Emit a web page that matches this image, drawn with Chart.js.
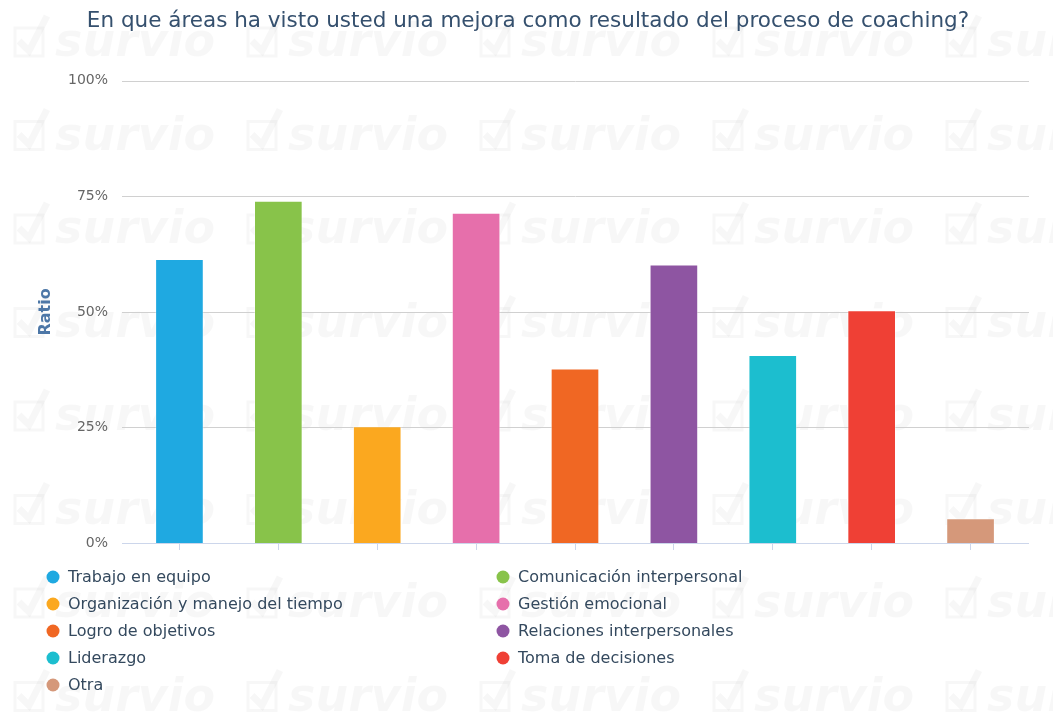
<!DOCTYPE html>
<html>
<head>
<meta charset="utf-8">
<script src="https://cdn.jsdelivr.net/npm/chart.js@4.4.1/dist/chart.umd.min.js"></script>
<style>
  html, body { margin: 0; padding: 0; background: #fff; }
  #wrap { width: 1053px; height: 717px; position: relative; }
</style>
</head>
<body>
<div id="wrap"><canvas id="chart"></canvas></div>
<script>
// ============================================
// DATA
// ============================================
const categories = [
    'Trabajo en equipo',
    'Comunicación interpersonal',
    'Organización y manejo del tiempo',
    'Gestión emocional',
    'Logro de objetivos',
    'Relaciones interpersonales',
    'Liderazgo',
    'Toma de decisiones',
    'Otra'
];
const ratios = [61.4, 74.0, 25.2, 71.4, 37.7, 60.2, 40.6, 50.3, 5.3];
const yTicks = [0, 25, 50, 75, 100];

const barColors = ['#1fa9e1', '#88c34a', '#fba81f', '#e66fab', '#f06723', '#8e55a2', '#1cbecf', '#ef4035', '#d5987a'];

const FONT = '"DejaVu Sans", sans-serif';

// ============================================
// PLUGINS
// ============================================
const watermark = {
    id: 'watermark',
    beforeDraw(chart) {
        const ctx = chart.ctx;
        ctx.save();
        ctx.fillStyle = 'rgba(0,0,0,0.032)';
        ctx.strokeStyle = 'rgba(0,0,0,0.032)';
        ctx.font = 'italic bold 46px ' + FONT;
        ctx.textBaseline = 'alphabetic';
        for (let r = 0; r < 8; r++) {
            const by = 56 + r * 93.5;
            for (let c = 0; c < 5; c++) {
                const tx = 55 + c * 233;
                ctx.fillText('survio', tx, by);
                // check box
                ctx.lineWidth = 3;
                ctx.strokeRect(tx - 40, by - 28, 28, 28);
                ctx.lineWidth = 7;
                ctx.beginPath();
                ctx.moveTo(tx - 36, by - 15);
                ctx.lineTo(tx - 26, by - 5);
                ctx.lineTo(tx - 8, by - 40);
                ctx.stroke();
            }
        }
        ctx.restore();
    }
};

const customGrid = {
    id: 'customGrid',
    beforeDatasetsDraw(chart) {
        const ctx = chart.ctx;
        const y = chart.scales.y;
        ctx.save();
        ctx.lineWidth = 1;
        yTicks.forEach(v => {
            const py = Math.round(y.getPixelForValue(v)) + 0.5;
            ctx.strokeStyle = v === 0 ? '#ccd6eb' : '#d0d0d0';
            ctx.beginPath();
            ctx.moveTo(122, py);
            ctx.lineTo(1029, py);
            ctx.stroke();
        });
        ctx.restore();
    }
};

const sideLegend = {
    id: 'sideLegend',
    afterDraw(chart) {
        const ctx = chart.ctx;
        const top = chart.chartArea.bottom + 34;
        const colX = [53, 503];
        ctx.save();
        ctx.font = '16px ' + FONT;
        ctx.textBaseline = 'middle';
        chart.data.labels.forEach((label, i) => {
            const col = i % 2;
            const row = Math.floor(i / 2);
            const cy = top + row * 27;
            ctx.fillStyle = chart.data.datasets[0].backgroundColor[i];
            ctx.beginPath();
            ctx.arc(colX[col], cy, 6.5, 0, Math.PI * 2);
            ctx.fill();
            ctx.fillStyle = '#34495e';
            ctx.fillText(label, colX[col] + 15, cy + 1);
        });
        ctx.restore();
    }
};

// ============================================
// CHART
// ============================================
new Chart(document.getElementById('chart'), {
    type: 'bar',
    data: {
        labels: categories,
        datasets: [{
            data: ratios,
            backgroundColor: barColors,
            borderColor: 'rgba(255,255,255,0.35)',
            borderWidth: 1,
            barThickness: 48
        }]
    },
    options: {
        responsive: true,
        maintainAspectRatio: false,
        animation: false,
        layout: { padding: { left: 36, right: 33, top: 0, bottom: 167 } },
        plugins: {
            legend: { display: false },
            tooltip: { enabled: false },
            title: {
                display: true,
                text: 'En que áreas ha visto usted una mejora como resultado del proceso de coaching?',
                color: '#35506e',
                font: { family: FONT, size: 21.5, weight: 'normal' },
                padding: { top: 9, bottom: 46 }
            }
        },
        scales: {
            x: {
                offset: true,
                grid: { display: true, drawOnChartArea: false, drawTicks: true, tickLength: 7, color: '#ccd6eb', offset: false },
                border: { display: false },
                ticks: { display: false }
            },
            y: {
                min: 0,
                max: 100,
                afterFit(scale) { scale.width = 94; },
                afterBuildTicks(scale) { scale.ticks = yTicks.map(v => ({ value: v })); },
                grid: { display: false, drawTicks: false },
                border: { display: false },
                ticks: {
                    padding: 22,
                    color: '#666666',
                    font: { family: FONT, size: 14 },
                    callback: v => v + '%'
                },
                title: {
                    display: true,
                    text: 'Ratio',
                    color: '#4d77a7',
                    font: { family: FONT, size: 16, weight: 'bold' },
                    padding: { top: 0, bottom: 0 }
                }
            }
        }
    },
    plugins: [watermark, customGrid, sideLegend]
});
</script>
</body>
</html>
